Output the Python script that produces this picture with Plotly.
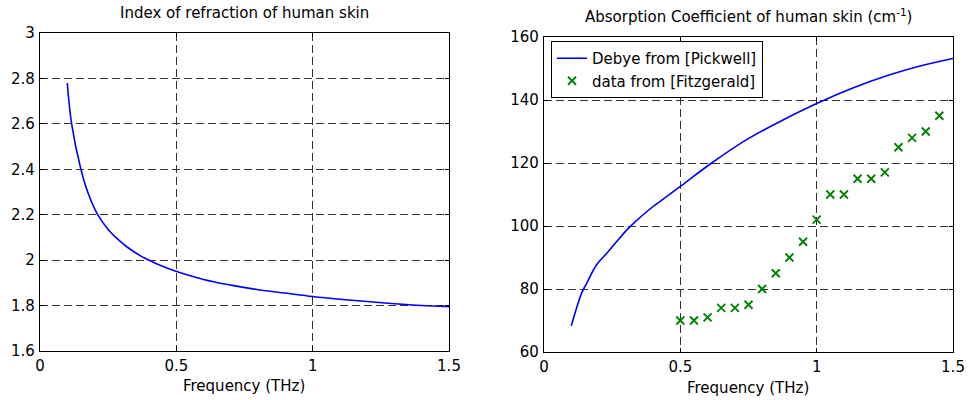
import plotly.graph_objects as go

# Left panel: index of refraction
n_freq = [0.1, 0.116, 0.15, 0.177, 0.2115, 0.25, 0.287, 0.318, 0.385, 0.47, 0.6, 0.7, 0.8, 0.9, 1.0, 1.1, 1.2, 1.3, 1.4, 1.5]
n_vals = [2.78, 2.6, 2.4, 2.293, 2.2, 2.135, 2.09, 2.059, 2.008, 1.963, 1.915, 1.89, 1.87, 1.855, 1.84, 1.828, 1.818, 1.808, 1.80, 1.795]

# Right panel: absorption coefficient
a_freq = [0.1, 0.138, 0.157, 0.193, 0.236, 0.303, 0.334, 0.383, 0.432, 0.5, 0.615, 0.743, 0.866, 1.0, 1.135, 1.257, 1.379, 1.5]
a_vals = [68.3, 78.7, 81.9, 87.7, 91.9, 98.7, 101.3, 105.0, 108.2, 112.6, 120.0, 127.4, 133.2, 138.9, 143.9, 147.7, 150.8, 153.2]

fitz_freq = [0.5, 0.55, 0.6, 0.65, 0.7, 0.75, 0.8, 0.85, 0.9, 0.95, 1.0, 1.05, 1.1, 1.15, 1.2, 1.25, 1.3, 1.35, 1.4, 1.45]
fitz_vals = [70, 70, 71, 74, 74, 75, 80, 85, 90, 95, 102, 110, 110, 115, 115, 117, 125, 128, 130, 135]

x_ticks = [0, 0.5, 1, 1.5]
x_ticklabels = ["0", "0.5", "1", "1.5"]
n_ticks = [1.6, 1.8, 2, 2.2, 2.4, 2.6, 2.8, 3]
n_ticklabels = ["1.6", "1.8", "2", "2.2", "2.4", "2.6", "2.8", "3"]
a_ticks = [60, 80, 100, 120, 140, 160]

FONT = "DejaVu Sans, Arial, sans-serif"
FS = 15

fig = go.Figure()
fig.add_trace(go.Scatter(x=n_freq, y=n_vals, mode="lines", line=dict(color="#0000FF", width=1.6),
                         xaxis="x", yaxis="y", showlegend=False, line_shape="spline"))
fig.add_trace(go.Scatter(x=a_freq, y=a_vals, mode="lines", line=dict(color="#0000FF", width=1.6),
                         xaxis="x2", yaxis="y2", name="Debye from [Pickwell]", line_shape="spline"))
fig.add_trace(go.Scatter(x=fitz_freq, y=fitz_vals, mode="markers",
                         marker=dict(symbol="x-thin", size=8, line=dict(color="#008000", width=1.8), color="#008000"),
                         xaxis="x2", yaxis="y2", name="data from [Fitzgerald]"))

axis_common = dict(showline=True, linecolor="black", linewidth=1.2, mirror="ticks", ticks="inside",
                   ticklen=4, tickcolor="black", showgrid=True, gridcolor="#333", griddash="8px,4px",
                   gridwidth=1, zeroline=False, automargin=False,
                   tickfont=dict(family=FONT, size=FS, color="black"))

fig.update_layout(
    width=968, height=400, margin=dict(l=0, r=0, t=0, b=0, autoexpand=False),
    paper_bgcolor="white", plot_bgcolor="white",
    font=dict(family=FONT, size=FS, color="black"),
    xaxis=dict(domain=[40/968, 449/968], range=[0, 1.5], tickvals=x_ticks, ticktext=x_ticklabels,
               anchor="y", ticklabelstandoff=1, **axis_common),
    yaxis=dict(domain=[1-351/400, 1-33/400], range=[1.6, 3], tickvals=n_ticks, ticktext=n_ticklabels,
               anchor="x", ticklabelstandoff=1, **axis_common),
    xaxis2=dict(domain=[544/968, 953/968], range=[0, 1.5], tickvals=x_ticks, ticktext=x_ticklabels,
                anchor="y2", ticklabelstandoff=1, **axis_common),
    yaxis2=dict(domain=[1-352/400, 1-37/400], range=[60, 160], tickvals=a_ticks,
                anchor="x2", ticklabelstandoff=1, **axis_common),
    legend=dict(x=551/968, y=1-41/400, xanchor="left", yanchor="top", bgcolor="white",
                bordercolor="black", borderwidth=1, font=dict(family=FONT, size=FS, color="black"),
                tracegroupgap=0),
    annotations=[
        dict(text="Index of refraction of human skin", x=244/968, y=1-13/400, xref="paper", yref="paper",
             showarrow=False, xanchor="center", yanchor="middle", font=dict(size=FS)),
        dict(text="Absorption Coefficient of human skin (cm<sup>-1</sup>)", x=748/968, y=1-16/400,
             xref="paper", yref="paper", showarrow=False, xanchor="center", yanchor="middle", font=dict(size=FS)),
        dict(text="Frequency (THz)", x=244/968, y=1-386/400, xref="paper", yref="paper",
             showarrow=False, xanchor="center", yanchor="middle", font=dict(size=FS)),
        dict(text="Frequency (THz)", x=748/968, y=1-388/400, xref="paper", yref="paper",
             showarrow=False, xanchor="center", yanchor="middle", font=dict(size=FS)),
    ],
)

fig.write_html("out.html")
